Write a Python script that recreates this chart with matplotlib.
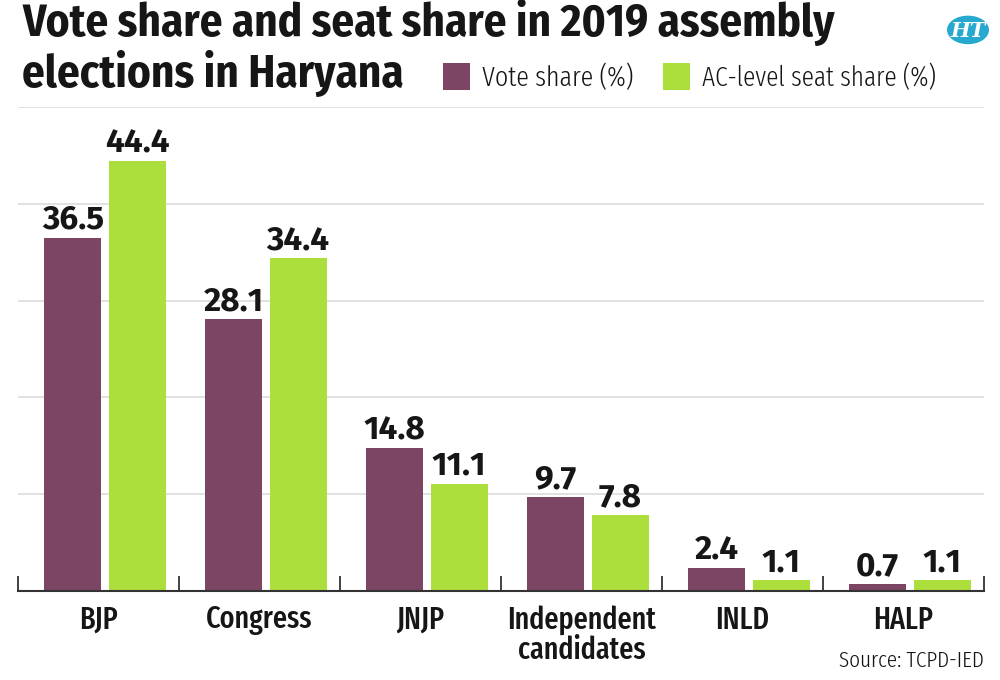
import matplotlib
matplotlib.use("Agg")
import matplotlib.pyplot as plt
from matplotlib.patches import Circle, Rectangle

# lettertypen (met terugval)
smal = ["Fira Sans Condensed", "DejaVu Sans"]
extra_smal = ["Fira Sans Extra Condensed", "Fira Sans Condensed", "DejaVu Sans"]
breed = ["Fira Sans", "DejaVu Sans"]

# data
partijen = ["BJP", "Congress", "JNJP", "Independent\ncandidates", "INLD", "HALP"]
stemmen = [36.5, 28.1, 14.8, 9.7, 2.4, 0.7]
zetels = [44.4, 34.4, 11.1, 7.8, 1.1, 1.1]

paars = "#7b4563"
groen = "#acde3c"
tekst = "#161616"

fig = plt.figure(figsize=(10, 6.8), dpi=100)
ax = fig.add_axes([0.018, 0.131, 0.966, 0.7114])

x = list(range(len(partijen)))
breedte = 0.355
verschuif = 0.04
stap = 0.2
ax.bar([i + verschuif - stap for i in x], stemmen, width=breedte, color=paars, zorder=2)
ax.bar([i + verschuif + stap for i in x], zetels, width=breedte, color=groen, zorder=2)

for i in x:
    ax.annotate(f"{stemmen[i]}", (i + verschuif - stap, stemmen[i]), xytext=(0, 6.5),
                textcoords="offset points", ha="center", va="baseline",
                fontsize=24, fontweight="bold", family=breed, color=tekst)
    ax.annotate(f"{zetels[i]}", (i + verschuif + stap, zetels[i]), xytext=(0, 6.5),
                textcoords="offset points", ha="center", va="baseline",
                fontsize=24, fontweight="bold", family=breed, color=tekst)

ax.set_xlim(-0.5, len(partijen) - 0.5)
ax.set_ylim(0, 50)
ax.set_yticks([10, 20, 30, 40, 50])
ax.yaxis.grid(True, color="#dcdcdc", linewidth=1.2, zorder=0)
ax.tick_params(axis="y", left=False, labelleft=False)

ax.set_xticks(x)
ax.set_xticklabels(partijen, fontsize=22, fontweight=500, family=extra_smal, color=tekst,
                   linespacing=1.0)
ax.tick_params(axis="x", which="major", length=0, pad=10)
ax.set_xticks([i - 0.5 for i in range(len(partijen) + 1)], minor=True)
ax.tick_params(axis="x", which="minor", direction="in", length=11, width=1.3, color="#333333")

for s in ["left", "right", "top"]:
    ax.spines[s].set_visible(False)
ax.spines["bottom"].set_color("#333333")
ax.spines["bottom"].set_linewidth(1.5)
ax.set_axisbelow(True)

# titel (twee regels in een tekst, baseline van de laatste regel)
fig.text(0.022, 0.872, "Vote share and seat share in 2019 assembly\nelections in Haryana",
         fontsize=32.4, fontweight=700, family=smal, color=tekst, va="baseline",
         linespacing=1.12)

# legenda
fig.patches.append(Rectangle((0.443, 0.868), 0.027, 0.039, transform=fig.transFigure,
                             facecolor=paars, edgecolor="none"))
fig.text(0.482, 0.873, "Vote share (%)", fontsize=20.3, fontweight=300, family=extra_smal,
         color=tekst, va="baseline")
fig.patches.append(Rectangle((0.663, 0.868), 0.027, 0.039, transform=fig.transFigure,
                             facecolor=groen, edgecolor="none"))
fig.text(0.702, 0.873, "AC-level seat share (%)", fontsize=19.8, fontweight=300,
         family=extra_smal, color=tekst, va="baseline")

# HT logo
fig.patches.append(Circle((0.968, 0.956), 0.021, transform=fig.transFigure,
                          facecolor="#27a8cf", edgecolor="none"))
fig.text(0.968, 0.954, "HT", fontsize=15, fontweight="bold", style="italic",
         family="DejaVu Serif", color="white", ha="center", va="center")

# bron
fig.text(0.984, 0.019, "Source: TCPD-IED", fontsize=16.6, fontweight=300, family=extra_smal,
         color=tekst, ha="right", va="baseline")

fig.savefig("out.png", dpi=100)
